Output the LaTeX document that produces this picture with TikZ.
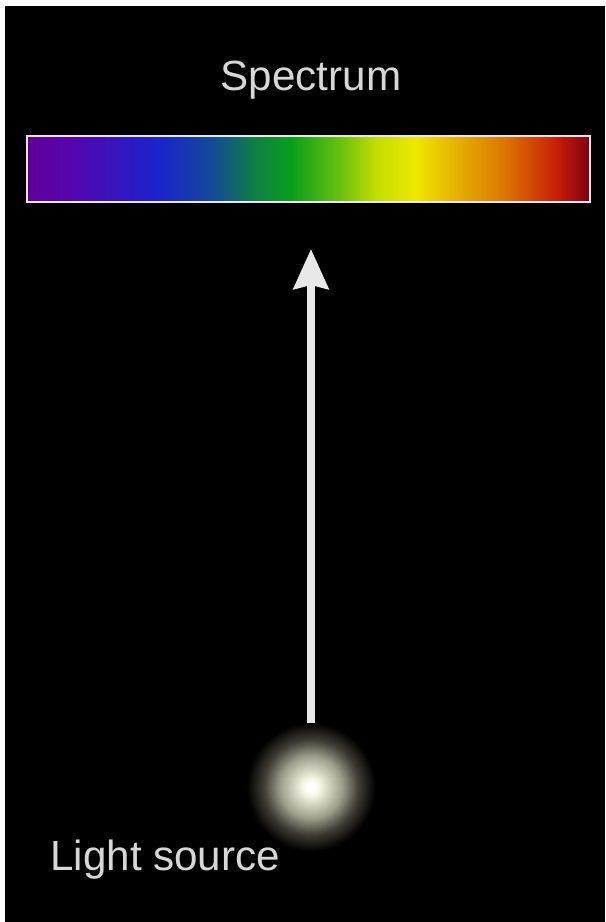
\documentclass[tikz,border=0pt]{standalone}
\usepackage{fontspec}
\setmainfont{Liberation Sans}
\usetikzlibrary{arrows.meta}
\definecolor{LabelGray}{RGB}{215, 215, 215}
\definecolor{BarEdge}{RGB}{236, 228, 242}
\definecolor{RayGray}{RGB}{232, 232, 232}
\definecolor{GlowCore}{RGB}{248, 246, 228}
\definecolor{GlowMid}{RGB}{160, 158, 140}
\definecolor{GlowFade}{RGB}{62, 60, 52}
% spectrum stops, violet to red
\definecolor{SpA}{RGB}{95, 0, 155}
\definecolor{SpB}{RGB}{85, 5, 175}
\definecolor{SpC}{RGB}{25, 35, 205}
\definecolor{SpD}{RGB}{20, 75, 150}
\definecolor{SpE}{RGB}{15, 125, 70}
\definecolor{SpF}{RGB}{10, 160, 25}
\definecolor{SpG}{RGB}{110, 195, 15}
\definecolor{SpH}{RGB}{195, 222, 0}
\definecolor{SpI}{RGB}{238, 232, 0}
\definecolor{SpJ}{RGB}{228, 172, 0}
\definecolor{SpK}{RGB}{220, 115, 0}
\definecolor{SpL}{RGB}{200, 30, 5}
\definecolor{SpM}{RGB}{125, 0, 20}
\pgfdeclareradialshading{glow}{\pgfpoint{0bp}{0bp}}{color(0bp)=(white); color(1.2bp)=(white); color(3bp)=(GlowCore); color(11bp)=(GlowMid); color(17bp)=(GlowFade); color(23bp)=(black); color(50bp)=(black)}

\begin{document}
\begin{tikzpicture}[x=0.02cm, y=-0.02cm,
    label/.style={text=LabelGray, inner sep=0, font=\fontsize{24}{28}\selectfont},
    ray/.style={RayGray, line width=4pt, -{Stealth[length=0.8cm, width=0.7cm, inset=0.08cm]}}]
      % Frame
      \useasboundingbox (0,0) rectangle (605,922);
      \fill[white] (0,0) rectangle (605,922);
      \fill[black] (5,6) rectangle (605,922);

      % Spectrum bar
      \foreach \xa/\xb/\ca/\cb in {27/72/SpA/SpB, 72/157/SpB/SpC, 157/213/SpC/SpD,
                                  213/252/SpD/SpE, 252/292/SpE/SpF, 292/342/SpF/SpG,
                                  342/376/SpG/SpH, 376/415/SpH/SpI, 415/460/SpI/SpJ,
                                  460/506/SpJ/SpK, 506/556/SpK/SpL, 556/590/SpL/SpM} {
        \shade[left color=\ca, right color=\cb] (\xa,136) rectangle (\xb+1,202);
      }
      \node[draw=BarEdge, line width=1.2pt, inner sep=0,
            minimum width=11.26cm, minimum height=1.32cm] (bar) at (308.5,169) {};
      \node[label, anchor=base] (title) at (311,91) {Spectrum};

      % Light source
      \node[circle, inner sep=0, minimum size=2.8cm, shade, shading=glow] (src) at (311,787) {};
      \node[label, anchor=base west] (srclabel) at (50,870) {Light source};

      % Ray
      \draw[ray, shorten <=-0.12cm, shorten >=0.92cm] (src) -- (src |- bar.south);
    \end{tikzpicture}
\end{document}
